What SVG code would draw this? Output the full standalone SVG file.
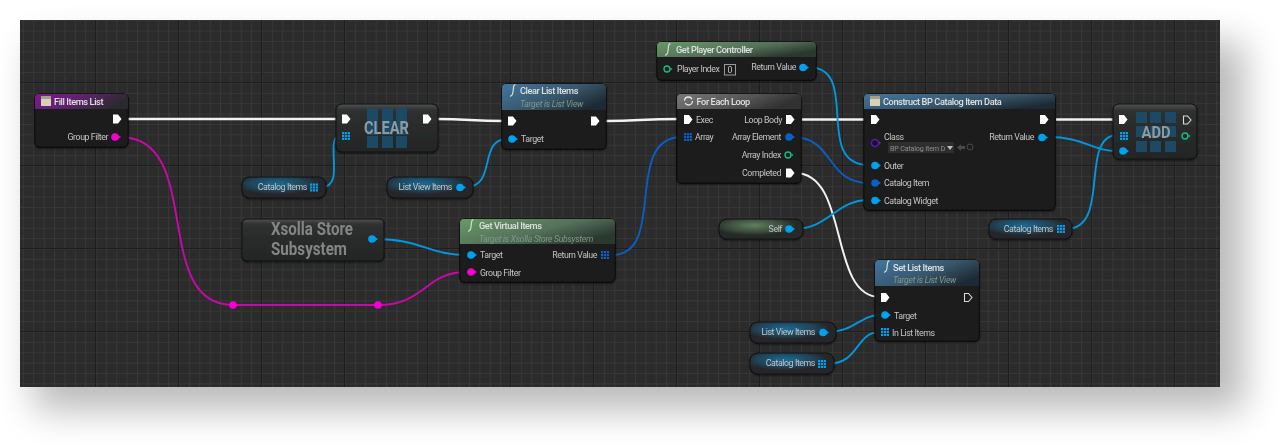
<svg xmlns="http://www.w3.org/2000/svg" width="1280" height="448" viewBox="0 0 1280 448">
<style>
text{font-family:Roboto,"Liberation Sans",sans-serif;fill:#c4c6c5;font-size:8.800px;letter-spacing:-.42px}
.h{font-size:9.200px;font-weight:500;fill:#dfe1df;letter-spacing:-.4px}
.s{font-size:8.600px;font-style:italic;fill:#7f9a86;letter-spacing:-.25px}
.b{fill:#1a1c1a;stroke:#0c0d0c;stroke-width:1}
.g{fill:url(#nodeg);stroke:#111;stroke-width:1}
.big{font-weight:700;fill:#8d9ba3;font-size:18px;text-anchor:middle;letter-spacing:0}
.x{font-weight:700;fill:#858585;font-size:18px;letter-spacing:0}
.e{text-anchor:end}
.w{fill:none;stroke:#f2f2f2;stroke-width:2.400}
.c{fill:none;stroke:#0296dc;stroke-width:1.900}
.d{fill:none;stroke:#0a5ec2;stroke-width:1.900}
.m{fill:none;stroke:#c908a8;stroke-width:1.900}
.cell{fill:#1c4a64}
</style>
<defs>
<pattern id="minor" width="10.375" height="10.375" patternUnits="userSpaceOnUse" x="12.500" y="-0.500">
<path d="M0 .5H10.375M.5 0V10.375" stroke="#373737" stroke-width="1" fill="none"/>
</pattern>
<pattern id="major" width="83" height="83" patternUnits="userSpaceOnUse" x="12" y="-1">
<path d="M0 .5H83M.5 0V83" stroke="#1e1e1e" stroke-width="1" fill="none"/>
</pattern>
<filter id="sh" x="-10%" y="-30%" width="120%" height="160%"><feGaussianBlur stdDeviation="18"/></filter>
<filter id="ns" x="-20%" y="-30%" width="140%" height="160%"><feDropShadow dx="0" dy="1" stdDeviation="1.200" flood-color="#000" flood-opacity=".6"/></filter>
<linearGradient id="nodeg" x1="0" y1="0" x2="0" y2="1"><stop offset="0" stop-color="#505252"/><stop offset=".13" stop-color="#2e3030"/><stop offset="1" stop-color="#232524"/></linearGradient>
<linearGradient id="hp" x1="0" y1="0" x2="1" y2=".3"><stop offset="0" stop-color="#7e1a94"/><stop offset=".55" stop-color="#5a2468"/><stop offset="1" stop-color="#2b2a2d"/></linearGradient>
<linearGradient id="hb" x1="0" y1="0" x2="1" y2=".6"><stop offset="0" stop-color="#42769e"/><stop offset=".6" stop-color="#38566c"/><stop offset="1" stop-color="#1f2c34"/></linearGradient>
<linearGradient id="hg" x1="0" y1="0" x2="1" y2=".6"><stop offset="0" stop-color="#679a66"/><stop offset=".6" stop-color="#54705a"/><stop offset="1" stop-color="#29372d"/></linearGradient>
<linearGradient id="hn" x1="0" y1="0" x2="1" y2=".3"><stop offset="0" stop-color="#777"/><stop offset=".6" stop-color="#555"/><stop offset="1" stop-color="#303030"/></linearGradient>
<radialGradient id="vb" cx=".42" cy=".32" r=".5"><stop offset="0" stop-color="#1c6a94"/><stop offset=".65" stop-color="#20445a"/><stop offset="1" stop-color="#25282a"/></radialGradient>
<radialGradient id="vg" cx=".42" cy=".32" r=".5"><stop offset="0" stop-color="#5e805e"/><stop offset=".65" stop-color="#3c4c3e"/><stop offset="1" stop-color="#262a27"/></radialGradient>
<g id="ex"><path d="M-4-4.500H1L4.500 0 1 4.500H-4Z" fill="#fff"/></g>
<g id="exo"><path d="M-3.500-4H.5L4 0 .5 4H-3.500Z" fill="none" stroke="#d8d8d8" stroke-width="1.100"/></g>
<g id="p"><circle r="3.800" fill="#04a0ee"/><path d="M3-2L6 0 3 2Z" fill="#04a0ee"/></g>
<g id="pd"><circle r="3.800" fill="#0a5ec8"/><path d="M3-2L6 0 3 2Z" fill="#0a5ec8"/></g>
<g id="pm"><circle r="3.800" fill="#f400d0"/><path d="M3-2L6 0 3 2Z" fill="#f400d0"/></g>
<g id="pt"><circle r="3" fill="none" stroke="#1ab98a" stroke-width="1.400"/><path d="M3.500-1.500L5.500 0 3.500 1.500Z" fill="#1ab98a"/></g>
<g id="a"><path d="M-4-4h2.200v2.200H-4ZM-1.100-4h2.200v2.200H-1.100ZM1.800-4H4v2.200H1.800ZM-4-1.100h2.200v2.200H-4ZM-1.100-1.100h2.200v2.200H-1.100ZM1.800-1.100H4v2.200H1.800ZM-4 1.800h2.200V4H-4ZM-1.100 1.800h2.200V4H-1.100ZM1.800 1.800H4V4H1.800Z" fill="#04a0ee"/></g>
<g id="ad"><path d="M-4-4h2.200v2.200H-4ZM-1.100-4h2.200v2.200H-1.100ZM1.800-4H4v2.200H1.800ZM-4-1.100h2.200v2.200H-4ZM-1.100-1.100h2.200v2.200H-1.100ZM1.800-1.100H4v2.200H1.800ZM-4 1.800h2.200V4H-4ZM-1.100 1.800h2.200V4H-1.100ZM1.800 1.800H4V4H1.800Z" fill="#0a5ec8"/></g>
<g id="tb"><rect x="-5" y="-5" width="10" height="10" fill="#d8d2b8"/><rect x="-5" y="-5" width="10" height="3" fill="#a89f88"/></g>
<path id="fn" d="M2.500-6C.5-6.500 .5-4 .2-1S-.5 5.500-3 5" fill="none" stroke="#cfe3d0" stroke-width="1.200"/>
</defs>
<rect width="1280" height="448" fill="#fff"/>
<rect x="34" y="42" width="1210" height="368" fill="#000" opacity=".27" filter="url(#sh)"/>
<rect x="20" y="20" width="1200" height="367" fill="#2b2b2b"/>
<rect x="20" y="20" width="1200" height="367" fill="url(#minor)"/>
<rect x="20" y="20" width="1200" height="367" fill="url(#major)"/>

<g id="connectors">
<path class="w" d="M127 119H338"/>
<path class="w" d="M436 119C470 119 470 121 504 121"/>
<path class="w" d="M606 121C640 121 640 119 680 119"/>
<path class="w" d="M802 119.500H866"/>
<path class="w" d="M1056 119.500H1116"/>
<path class="w" d="M795 173C850 173 828 297 880 297" style="stroke-width:2"/>
<path class="m" d="M120 137C205 137 150 305 233 305H378C425 305 425 272 466 272"/>
<path class="c" d="M322 187C347 187 322 135 342 135"/>
<path class="c" d="M466 187C497 187 478 139 507 139"/>
<path class="c" d="M376 239C420 239 430 255 466 255"/>
<path class="d" d="M612 255C668 255 622 137 682 137"/>
<path class="c" d="M808 67C862 67 812 165 869 165"/>
<path class="d" d="M792 137C835 137 825 183 869 183"/>
<path class="c" d="M793 229C830 229 835 200 869 200"/>
<path class="c" d="M1048 137C1085 137 1090 151 1118 151"/>
<path class="c" d="M1066 229C1112 229 1078 135 1118 135"/>
<path class="c" d="M827 332C855 332 860 315 880 315"/>
<path class="c" d="M827 364C860 364 855 332 880 332"/>
<circle cx="233" cy="305" r="3.800" fill="#f400d0"/>
<circle cx="378" cy="305" r="3.800" fill="#f400d0"/>
</g>

<g id="fill-items-list" filter="url(#ns)">
<rect class="b" x="35" y="94" width="93" height="53" rx="4"/>
<path d="M35 109V98a4 4 0 0 1 4-4H124a4 4 0 0 1 4 4V109Z" fill="url(#hp)"/>
<use href="#tb" x="46" y="101"/>
<text class="h" x="54" y="104.500">Fill Items List</text>
<use href="#ex" x="117" y="119"/>
<text class="e" x="108" y="140">Group Filter</text>
<use href="#pm" x="115" y="137"/>
</g>

<g id="clear" filter="url(#ns)">
<rect class="g" x="336" y="104" width="102" height="48" rx="6"/>
<path class="cell" d="M367 108h11v13h-11ZM382 108h11v13h-11ZM396 108h11v13h-11ZM367 121h11v14h-11ZM382 121h11v14h-11ZM396 121h11v14h-11ZM367 136h11v12h-11ZM382 136h11v12h-11ZM396 136h11v12h-11Z"/>
<text class="big" x="386.500" y="134" textLength="45" lengthAdjust="spacingAndGlyphs">CLEAR</text>
<use href="#ex" x="346" y="119"/>
<use href="#a" x="346" y="136"/>
<use href="#ex" x="427" y="119"/>
</g>

<g id="clear-list-items" filter="url(#ns)">
<rect class="b" x="502" y="84" width="104" height="65" rx="4"/>
<path d="M502 110V88a4 4 0 0 1 4-4H602a4 4 0 0 1 4 4V110Z" fill="url(#hb)"/>
<use href="#fn" x="513" y="91"/>
<text class="h" x="520" y="94">Clear List Items</text>
<text class="s" x="520" y="106.500">Target is List View</text>
<use href="#ex" x="512" y="121"/>
<use href="#ex" x="595" y="121"/>
<use href="#p" x="512" y="139"/>
<text x="521" y="142">Target</text>
</g>

<g id="catalog-items-a" filter="url(#ns)">
<rect x="242" y="177" width="84" height="21" rx="8" fill="url(#vb)" stroke="#111"/>
<text class="e" x="307" y="190">Catalog Items</text>
<use href="#a" x="314" y="187.500"/>
</g>

<g id="list-view-items-a" filter="url(#ns)">
<rect x="387" y="177" width="86" height="21" rx="8" fill="url(#vb)" stroke="#111"/>
<text class="e" x="452" y="190">List View Items</text>
<use href="#p" x="460" y="187.500"/>
</g>

<g id="xsolla-store-subsystem" filter="url(#ns)">
<rect class="g" x="242" y="219" width="142" height="42" rx="5"/>
<text class="x" x="271" y="235" textLength="82" lengthAdjust="spacingAndGlyphs">Xsolla Store</text>
<text class="x" x="271" y="255" textLength="76" lengthAdjust="spacingAndGlyphs">Subsystem</text>
<use href="#p" x="372" y="239"/>
</g>

<g id="get-virtual-items" filter="url(#ns)">
<rect class="b" x="460" y="219" width="155" height="63" rx="4"/>
<path d="M460 244V223a4 4 0 0 1 4-4H611a4 4 0 0 1 4 4V244Z" fill="url(#hg)"/>
<use href="#fn" x="471" y="226"/>
<text class="h" x="479" y="229">Get Virtual Items</text>
<text class="s" x="479" y="241.500">Target is Xsolla Store Subsystem</text>
<use href="#p" x="471" y="255"/>
<text x="480" y="258">Target</text>
<text class="e" x="597" y="258">Return Value</text>
<use href="#ad" x="605" y="255"/>
<use href="#pm" x="471" y="272"/>
<text x="480" y="275.500">Group Filter</text>
</g>

<g id="get-player-controller" filter="url(#ns)">
<rect class="b" x="657" y="42" width="159" height="38" rx="4"/>
<path d="M657 57V46a4 4 0 0 1 4-4H812a4 4 0 0 1 4 4V57Z" fill="url(#hg)"/>
<use href="#fn" x="668" y="50"/>
<text class="h" x="676" y="52.500">Get Player Controller</text>
<use href="#pt" x="667" y="69"/>
<text x="677" y="72">Player Index</text>
<rect x="724.500" y="64.500" width="11" height="10.500" fill="none" stroke="#9a9a9a"/>
<text x="727.500" y="72.500">0</text>
<text class="e" x="796" y="70">Return Value</text>
<use href="#p" x="803" y="67.500"/>
</g>

<g id="for-each-loop" filter="url(#ns)">
<rect class="b" x="677" y="94" width="124" height="89" rx="4"/>
<path d="M677 109V98a4 4 0 0 1 4-4H797a4 4 0 0 1 4 4V109Z" fill="url(#hn)"/>
<circle cx="688.500" cy="101" r="4" fill="none" stroke="#e8e8e8" stroke-width="1.300" stroke-dasharray="10 2.500"/>
<text class="h" x="696.500" y="104.500">For Each Loop</text>
<use href="#ex" x="688" y="119.500"/>
<text x="696" y="122.500">Exec</text>
<text class="e" x="782" y="122.500">Loop Body</text>
<use href="#ex" x="790" y="119.500"/>
<use href="#ad" x="688" y="137"/>
<text x="695" y="140">Array</text>
<text class="e" x="781" y="140">Array Element</text>
<use href="#pd" x="789" y="137"/>
<text class="e" x="781" y="158">Array Index</text>
<use href="#pt" x="788" y="155"/>
<text class="e" x="781" y="176">Completed</text>
<use href="#ex" x="790" y="173"/>
</g>

<g id="construct-bp-catalog-item-data" filter="url(#ns)">
<rect class="b" x="864" y="94" width="191" height="116" rx="4"/>
<path d="M864 109V98a4 4 0 0 1 4-4H1051a4 4 0 0 1 4 4V109Z" fill="url(#hb)"/>
<use href="#tb" x="875" y="101"/>
<text class="h" x="883" y="104.500">Construct BP Catalog Item Data</text>
<use href="#ex" x="875" y="119.500"/>
<use href="#ex" x="1044" y="119.500"/>
<circle cx="875" cy="143" r="3.500" fill="#1a0a30" stroke="#5a1ea8" stroke-width="1.400"/>
<path d="M879 141l2 2-2 2Z" fill="#5a1ea8"/>
<text x="884" y="140">Class</text>
<rect x="888" y="142" width="66" height="11" rx="1" fill="#2e2e2e"/>
<text x="890" y="150.500" style="font-size:7.400px;fill:#8d8d8d;letter-spacing:-.2px" textLength="55" lengthAdjust="spacingAndGlyphs">BP Catalog Item D</text>
<path d="M947 146h6l-3 4Z" fill="#bdbdbd"/>
<path d="M957 147.500l4-3.500v2h4v3h-4v2Z" fill="#4a4a4a"/>
<circle cx="970" cy="147" r="3" fill="none" stroke="#4a4a4a"/>
<text class="e" x="1034" y="140">Return Value</text>
<use href="#p" x="1042" y="137.500"/>
<use href="#p" x="875" y="165.500"/>
<text x="884" y="169">Outer</text>
<use href="#pd" x="875" y="183"/>
<text x="884" y="186">Catalog Item</text>
<use href="#p" x="875" y="200.500"/>
<text x="884" y="203.500">Catalog Widget</text>
</g>

<g id="self" filter="url(#ns)">
<rect x="719" y="219" width="84" height="20" rx="8" fill="url(#vg)" stroke="#111"/>
<text class="e" x="782" y="232">Self</text>
<use href="#p" x="789" y="229"/>
</g>

<g id="catalog-items-b" filter="url(#ns)">
<rect x="989" y="219" width="83" height="20" rx="7" fill="url(#vb)" stroke="#111"/>
<text class="e" x="1053" y="232">Catalog Items</text>
<use href="#a" x="1061" y="229"/>
</g>

<g id="add" filter="url(#ns)">
<rect class="g" x="1113" y="104" width="84" height="55" rx="6"/>
<path class="cell" d="M1136 112h11v11h-11ZM1150 112h11v11h-11ZM1165 112h11v11h-11ZM1136 126h11v11h-11ZM1150 126h11v11h-11ZM1165 126h11v11h-11ZM1136 141h11v11h-11ZM1150 141h11v11h-11ZM1165 141h11v11h-11Z"/>
<text class="big" x="1156" y="138" style="font-size:17px" textLength="29" lengthAdjust="spacingAndGlyphs">ADD</text>
<use href="#ex" x="1123" y="119.500"/>
<use href="#a" x="1124" y="136"/>
<use href="#p" x="1123" y="151"/>
<use href="#exo" x="1187" y="120"/>
<use href="#pt" x="1185" y="136"/>
</g>

<g id="set-list-items" filter="url(#ns)">
<rect class="b" x="875" y="260" width="104" height="81" rx="4"/>
<path d="M875 286V264a4 4 0 0 1 4-4H975a4 4 0 0 1 4 4V286Z" fill="url(#hb)"/>
<use href="#fn" x="887" y="267"/>
<text class="h" x="893" y="270.500">Set List Items</text>
<text class="s" x="893" y="283">Target is List View</text>
<use href="#ex" x="885" y="297.500"/>
<use href="#exo" x="968" y="297.500"/>
<use href="#p" x="885" y="315"/>
<text x="894" y="318.500">Target</text>
<use href="#a" x="885" y="332"/>
<text x="892" y="335.500">In List Items</text>
</g>

<g id="list-view-items-b" filter="url(#ns)">
<rect x="750" y="322" width="86" height="21" rx="8" fill="url(#vb)" stroke="#111"/>
<text class="e" x="815" y="335">List View Items</text>
<use href="#p" x="823" y="332.500"/>
</g>

<g id="catalog-items-c" filter="url(#ns)">
<rect x="750" y="353" width="84" height="21" rx="8" fill="url(#vb)" stroke="#111"/>
<text class="e" x="815" y="366">Catalog Items</text>
<use href="#a" x="822" y="364"/>
</g>
</svg>
